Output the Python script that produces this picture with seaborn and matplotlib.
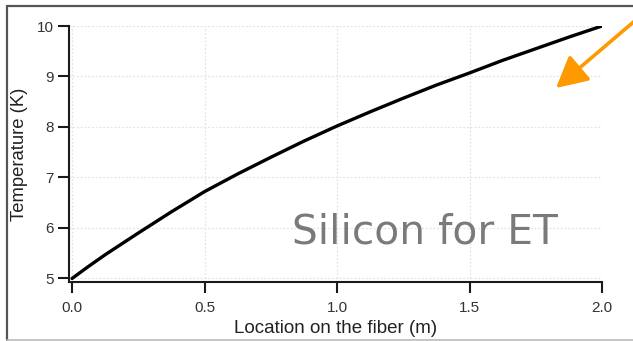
import numpy as np
import pandas as pd
import matplotlib
matplotlib.use("Agg")
import matplotlib.pyplot as plt
import seaborn as sns
from matplotlib.lines import Line2D
from matplotlib.patches import FancyArrowPatch

# Data
location_m = [0.0, 0.0625, 0.125, 0.25, 0.375, 0.5, 0.625, 0.75, 0.875, 1.0,
              1.125, 1.25, 1.375, 1.5, 1.625, 1.75, 1.875, 2.0]
temperature_K = [5.0, 5.24, 5.47, 5.90, 6.32, 6.72, 7.07, 7.40, 7.72, 8.02,
                 8.30, 8.57, 8.83, 9.07, 9.32, 9.55, 9.78, 10.0]
x_ticks = [0.0, 0.5, 1.0, 1.5, 2.0]
x_tick_labels = ["0.0", "0.5", "1.0", "1.5", "2.0"]
y_ticks = [5, 6, 7, 8, 9, 10]
x_label = "Location on the fiber (m)"
y_label = "Temperature (K)"
annotation_text = "Silicon for ET"

df = pd.DataFrame({"loc": location_m, "temp": temperature_K})

sns.set_theme(style="white")
plt.rcParams["font.family"] = ["Liberation Sans", "DejaVu Sans"]

W, H = 633, 341
fig = plt.figure(figsize=(W / 100, H / 100), dpi=100)
ax = fig.add_axes([69 / W, 1 - 282 / H, (602 - 69) / W, (282 - 26) / H])

sns.lineplot(data=df, x="loc", y="temp", ax=ax, color="black", linewidth=2.4)

ax.set_xlim(-0.0115, 2.0)
ax.set_ylim(4.93, 10.0)
ax.set_xticks(x_ticks)
ax.set_xticklabels(x_tick_labels)
ax.set_yticks(y_ticks)

ax.grid(True, color="#e3e3e3", linestyle=(0, (1.5, 1.5)), linewidth=0.9)
ax.set_axisbelow(True)

for s in ["top", "right"]:
    ax.spines[s].set_visible(False)
for s in ["left", "bottom"]:
    ax.spines[s].set_color("#1a1a1a")
    ax.spines[s].set_linewidth(1.5)

ax.tick_params(axis="both", direction="out", length=8, width=1.5,
               color="#1a1a1a", labelsize=11, labelcolor="#333333",
               bottom=True, left=True)
ax.tick_params(axis="x", pad=6)
ax.tick_params(axis="y", pad=3)

ax.set_xlabel(x_label, fontsize=13.5, color="#222222")
ax.set_ylabel(y_label, fontsize=13.3, color="#222222")
ax.xaxis.set_label_coords(0.5, (282 - 320) / 256)
ax.yaxis.set_label_coords((28 - 69) / 533, 0.5)

ax.text((292 - 69) / 533, (282 - 243) / 256, annotation_text,
        transform=ax.transAxes, fontsize=29.3, color="#7a7a7a",
        family=["DejaVu Sans"], ha="left", va="baseline")

# Orange arrow (decoration)
fig.patches.append(FancyArrowPatch(
    (W + 4, H - 19), (556, H - 88), transform=None,
    arrowstyle="-|>,head_length=19,head_width=10", color="#ff9900",
    linewidth=2.6, mutation_scale=1, shrinkA=0, shrinkB=0))

# Outer frame lines
fig.add_artist(Line2D([7 / W, 7 / W], [1 - 6 / H, 1 - 340 / H],
                      transform=fig.transFigure, color="#555555", linewidth=1.6))
fig.add_artist(Line2D([7 / W, 1.0], [1 - 6 / H, 1 - 6 / H],
                      transform=fig.transFigure, color="#555555", linewidth=1.6))
fig.add_artist(Line2D([7 / W, 1.0], [1 - 340 / H, 1 - 340 / H],
                      transform=fig.transFigure, color="#bbbbbb", linewidth=1.2))

fig.savefig("out.png", dpi=100)
